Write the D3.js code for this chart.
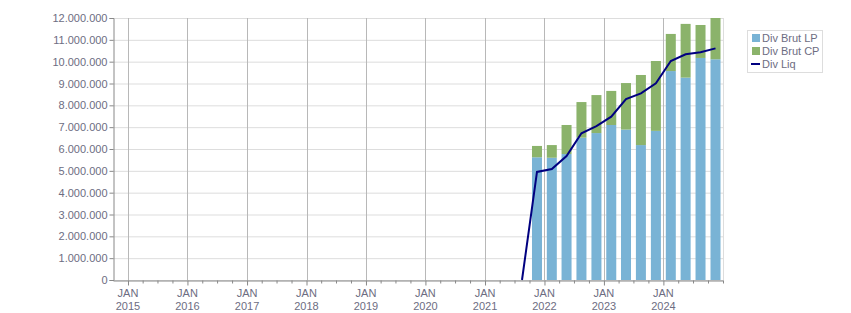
<!DOCTYPE html>
<html>
<head>
<meta charset="utf-8">
<script src="https://cdn.jsdelivr.net/npm/d3@7"></script>
<style>
  body { margin: 0; background: #fff; }
  text { font-family: "Liberation Sans", Arial, sans-serif; font-size: 11px; fill: #6d6d82; }
</style>
</head>
<body>
<svg id="chart" width="851" height="313"></svg>
<script>
// quarters (start month), values in euros
var quarters = ["2021-07", "2021-10", "2022-01", "2022-04", "2022-07", "2022-10", "2023-01",
                "2023-04", "2023-07", "2023-10", "2024-01", "2024-04", "2024-07", "2024-10"];
var divBrutLP = [0, 5620000, 5600000, 5770000, 6520000, 6730000, 7100000,
                 6890000, 6180000, 6830000, 9570000, 9270000, 10170000, 10110000];
var divBrutCP = [0, 520000, 580000, 1330000, 1630000, 1740000, 1560000,
                 2130000, 3210000, 3200000, 1700000, 2460000, 1510000, 1890000];
var divLiq = [0, 4950000, 5080000, 5680000, 6720000, 7050000, 7480000,
              8290000, 8550000, 9010000, 10030000, 10340000, 10430000, 10610000];
var yTicks = [0, 1000000, 2000000, 3000000, 4000000, 5000000, 6000000,
              7000000, 8000000, 9000000, 10000000, 11000000, 12000000];

var plotLeft = 113, plotTop = 18, plotRight = 723, plotBottom = 280;
var svg = d3.select("#chart");
var parseMonth = d3.timeParse("%Y-%m");

var x = d3.scaleTime()
  .domain([new Date(2014, 9, 1), new Date(2025, 0, 1)])
  .range([plotLeft, plotRight]);
var y = d3.scaleLinear().domain([0, 12000000]).range([plotBottom, plotTop]);

var loc = d3.formatLocale({ decimal: ",", thousands: ".", grouping: [3], currency: ["", "€"] });
var fmt = loc.format(",d");

function midQuarter(s) {
  var d = parseMonth(s);
  return new Date((d.getTime() + d3.timeMonth.offset(d, 3).getTime()) / 2);
}

var rows = quarters.map(function (q, i) {
  return { date: midQuarter(q), lp: divBrutLP[i], cp: divBrutCP[i], liq: divLiq[i] };
});

// horizontal grid
svg.append("g").selectAll("line").data(yTicks).enter().append("line")
  .attr("x1", plotLeft).attr("x2", plotRight)
  .attr("y1", function (d) { return y(d) + 0.5; }).attr("y2", function (d) { return y(d) + 0.5; })
  .attr("stroke", "#dddddd");

svg.append("line").attr("x1", plotRight + 0.5).attr("x2", plotRight + 0.5)
  .attr("y1", plotTop).attr("y2", plotBottom).attr("stroke", "#dddddd");

// vertical grid on january
var years = d3.timeYear.range(new Date(2015, 0, 1), new Date(2025, 0, 1));
svg.append("g").selectAll("line").data(years).enter().append("line")
  .attr("x1", function (d) { return Math.round(x(d)) + 0.5; })
  .attr("x2", function (d) { return Math.round(x(d)) + 0.5; })
  .attr("y1", plotTop).attr("y2", plotBottom)
  .attr("stroke", "#b8b8b8");

// stacked bars
var stack = d3.stack().keys(["lp", "cp"]);
var series = stack(rows);
var colors = { lp: "#79b3d5", cp: "#8bb36b" };
var barW = 10;
svg.append("g").selectAll("g").data(series).enter().append("g")
  .attr("fill", function (s) { return colors[s.key]; })
  .selectAll("rect").data(function (s) { return s; }).enter().append("rect")
  .attr("x", function (d) { return x(d.data.date) - barW / 2; })
  .attr("width", barW)
  .attr("y", function (d) { return y(d[1]); })
  .attr("height", function (d) { return y(d[0]) - y(d[1]); });

// line
var line = d3.line()
  .x(function (d) { return x(d.date); })
  .y(function (d) { return y(d.liq); });
svg.append("path").datum(rows)
  .attr("d", line)
  .attr("fill", "none")
  .attr("stroke", "#000080")
  .attr("stroke-width", 2);

// y axis
var yAxis = svg.append("g")
  .attr("transform", "translate(" + (plotLeft + 0.5) + ",0)")
  .call(d3.axisLeft(y).tickValues(yTicks).tickFormat(fmt).tickSize(4).tickPadding(2));
yAxis.select(".domain").attr("stroke", "#888888");
yAxis.selectAll(".tick line").attr("stroke", "#888888");
yAxis.selectAll("text").attr("fill", "#6d6d82").style("font-size", "11px")
  .style("font-family", "'Liberation Sans', Arial, sans-serif");

// x axis
var quarterTicks = d3.timeMonth.every(3).range(new Date(2015, 0, 1), new Date(2025, 0, 2));
var xAxis = svg.append("g")
  .attr("transform", "translate(0," + (plotBottom + 0.5) + ")")
  .call(d3.axisBottom(x).tickValues(quarterTicks).tickSize(3).tickSizeOuter(0).tickFormat(""));
xAxis.select(".domain").attr("stroke", "#888888");
xAxis.selectAll(".tick line")
  .attr("stroke", "#888888")
  .attr("y2", function (d) { return d.getMonth() === 0 && d.getFullYear() < 2025 ? 5 : 3; });

var labels = svg.append("g").selectAll("text").data(years).enter().append("text")
  .attr("x", function (d) { return x(d); })
  .attr("y", 297)
  .attr("text-anchor", "middle");
labels.append("tspan").attr("x", function (d) { return x(d); }).text("JAN");
labels.append("tspan").attr("x", function (d) { return x(d); }).attr("dy", 13)
  .text(function (d) { return d.getFullYear(); });

// legend
var legend = svg.append("g");
legend.append("rect").attr("x", 747.5).attr("y", 30.5).attr("width", 75).attr("height", 42)
  .attr("fill", "#fff").attr("stroke", "#dddddd");
var legendItems = [
  { name: "Div Brut LP", color: colors.lp, type: "box" },
  { name: "Div Brut CP", color: colors.cp, type: "box" },
  { name: "Div Liq", color: "#000080", type: "line" }
];
legendItems.forEach(function (it, i) {
  var cy = 38 + i * 13;
  if (it.type === "box") {
    legend.append("rect").attr("x", 752).attr("y", cy - 4).attr("width", 8).attr("height", 8)
      .attr("fill", it.color);
  } else {
    legend.append("line").attr("x1", 751).attr("x2", 760).attr("y1", cy).attr("y2", cy)
      .attr("stroke", it.color).attr("stroke-width", 2);
  }
  legend.append("text").attr("x", 762).attr("y", cy + 4).text(it.name);
});
</script>
</body>
</html>
